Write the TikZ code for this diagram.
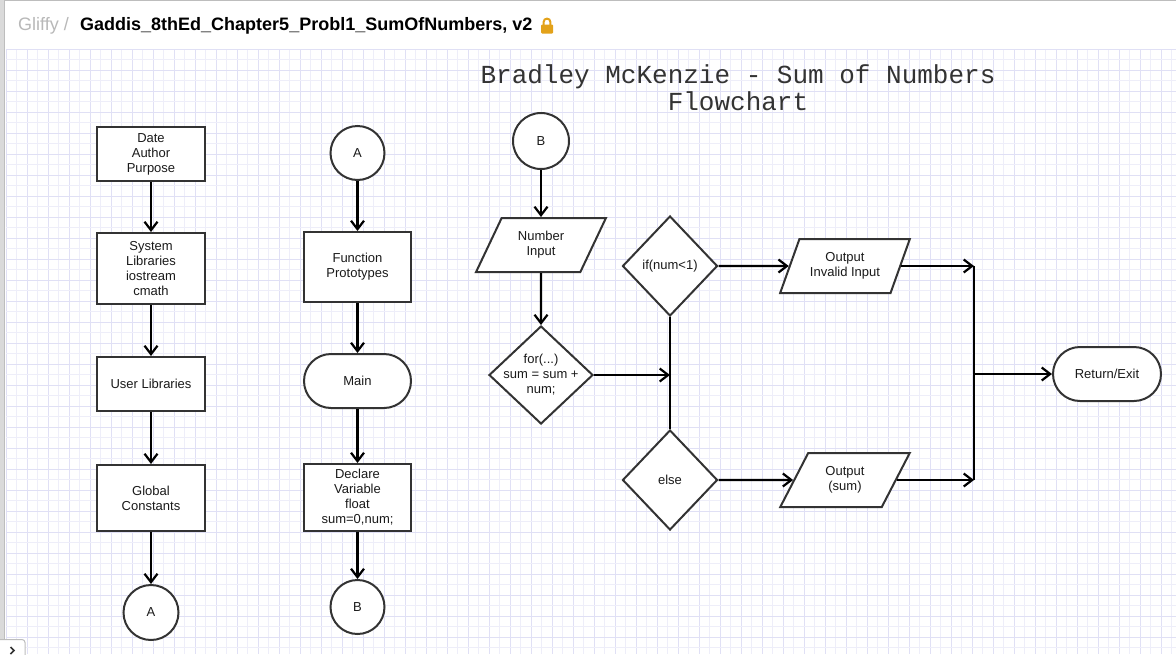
\documentclass[tikz,border=0pt]{standalone}
\usepackage{fontspec}
\setmainfont{Liberation Sans}
\newfontfamily\titlemono{Liberation Mono}
\usetikzlibrary{shapes.geometric,shapes.misc,arrows.meta}
\definecolor{edge}{HTML}{333333}
\definecolor{txt}{HTML}{1A1A1A}
\definecolor{titlec}{HTML}{333333}
\definecolor{gridmajor}{HTML}{E0E0F5}
\definecolor{gridminor}{HTML}{EEEEF9}
\definecolor{gliffygray}{HTML}{B8B8B8}
\definecolor{lockc}{HTML}{E3A21A}
\definecolor{barc}{HTML}{DADADA}
\definecolor{baredge}{HTML}{BDBDBD}
\begin{document}
\begin{tikzpicture}[x=1pt,y=-1pt,
  every node/.style={font=\fontsize{13}{15}\selectfont, text=txt, align=center},
  procbox/.style={draw=edge, line width=2pt, fill=white, minimum width=108pt, inner sep=0pt},
  connector/.style={draw=edge, line width=2pt, fill=white, circle, minimum size=54pt, inner sep=0pt},
  terminal/.style={draw=edge, line width=2pt, fill=white, rounded rectangle, minimum width=107pt, minimum height=54pt, inner sep=0pt},
  decision/.style={draw=edge, line width=2pt, fill=white, diamond, inner sep=-8pt},
  iobox/.style={draw=edge, line width=2pt, fill=white, trapezium, trapezium left angle=61, trapezium right angle=119, trapezium stretches=true, minimum width=130pt, minimum height=54pt, inner sep=0pt},
  flow/.style={draw=black, line width=2.2pt, -{Straight Barb[length=8.5pt,width=13pt]}},
  plainline/.style={draw=black, line width=2.2pt}
]
\useasboundingbox (0,0) rectangle (1176,654);
\fill[white] (0,0) rectangle (1176,654);
% grid
\foreach \i in {0,...,111}{\ifodd\i\def\gc{gridminor}\else\def\gc{gridmajor}\fi
  \draw[\gc, line width=1pt] ({6+10.5*\i},49) -- ({6+10.5*\i},654);}
\foreach \j in {0,...,57}{\ifodd\j\def\gc{gridminor}\else\def\gc{gridmajor}\fi
  \draw[\gc, line width=1pt] (6,{49.3+10.5*\j}) -- (1176,{49.3+10.5*\j});}
% frame bits
\draw[baredge, line width=1pt] (0,0.5) -- (1176,0.5);
\fill[barc] (0,0) rectangle (4,640);
\draw[baredge, line width=1pt] (4.5,0) -- (4.5,640);
\draw[baredge, line width=1pt, fill=white, rounded corners=3pt] (-3,660) -- (-3,639.5) -- (25,639.5) -- (25,660);
\draw[edge, line width=1.6pt] (10.5,647) -- (14,650.5) -- (10.5,654);
% header
\node[anchor=base west, inner sep=0pt, font=\fontsize{18}{18}\selectfont, text=gliffygray] (hg) at (18,30) {Gliffy /};
\node[anchor=base west, inner sep=0pt, font=\bfseries\fontsize{18}{18}\selectfont, text=black] (ht) at (80,30) {Gaddis\_8thEd\_Chapter5\_Probl1\_SumOfNumbers, v2};
\fill[lockc, rounded corners=1pt] (541,24.5) rectangle (553,33.5);
\draw[lockc, line width=2pt] (543.6,25) -- (543.6,22) .. controls (543.6,17.5) and (550.4,17.5) .. (550.4,22) -- (550.4,25);
% title
\node[font=\titlemono\fontsize{26}{26.5}\selectfont, text=titlec, inner sep=0pt] (title) at (738,87.5) {Bradley McKenzie - Sum of Numbers\\Flowchart};
% column 1
\node[procbox, minimum height=54pt] (date) at (151,154) {Date\\Author\\Purpose};
\node[procbox, minimum height=71pt] (sys) at (151,268.5) {System\\Libraries\\iostream\\cmath};
\node[procbox, minimum height=54pt] (usr) at (151,384) {User Libraries};
\node[procbox, minimum height=66pt] (glob) at (151,498) {Global\\Constants};
\node[connector, minimum size=55pt] (ca1) at (151,612.5) {A};
% column 2
\node[connector] (ca2) at (357.5,153) {A};
\node[procbox, minimum width=107pt, minimum height=70pt] (fp) at (357.5,267) {Function\\Prototypes};
\node[terminal] (main) at (357.5,381) {Main};
\node[procbox, minimum width=107pt, minimum height=67pt] (decl) at (357.5,497.5) {Declare\\Variable\\float\\sum=0,num;};
\node[connector] (cb1) at (357.5,607) {B};
% column 3
\node[connector, minimum size=56pt] (cb2) at (541,141) {B};
\node[iobox] (ni) at (541,245) {Number\\Input};
\node[decision, minimum width=104pt, minimum height=98pt] (for) at (541,375) {for(...)\\sum = sum +\\num;};
\node[decision, minimum width=95pt, minimum height=100pt] (if) at (670,266) {if(num<1)};
\node[decision, minimum width=95pt, minimum height=100pt] (else) at (670,480) {else};
\node[iobox] (oi) at (845,266) {Output\\Invalid Input};
\node[iobox] (os) at (845,480) {Output\\(sum)};
\node[terminal, minimum width=108pt] (ret) at (1107,374) {Return/Exit};
\coordinate (jx) at (974,374);
% connectors
\draw[flow] (date) -- (sys);
\draw[flow] (sys) -- (usr);
\draw[flow] (usr) -- (glob);
\draw[flow] (glob) -- (ca1);
\draw[flow] (ca2) -- (fp);
\draw[flow] (fp) -- (main);
\draw[flow] (main) -- (decl);
\draw[flow] (decl) -- (cb1);
\draw[flow] (cb2) -- (ni);
\draw[flow] (ni) -- (for);
\draw[plainline] (if.south) -- (else.north);
\draw[flow] (for.east) -- (for.east -| if.south);
\draw[flow] (if.east) -- (oi.west);
\draw[flow] (else.east) -- (os.west);
\draw[flow] (oi.east) -- (oi.east -| jx);
\draw[flow] (os.east) -- (os.east -| jx);
\draw[plainline] (jx |- oi.east) -- (jx |- os.east);
\draw[flow] (jx) -- (ret.west);
\end{tikzpicture}
\end{document}
